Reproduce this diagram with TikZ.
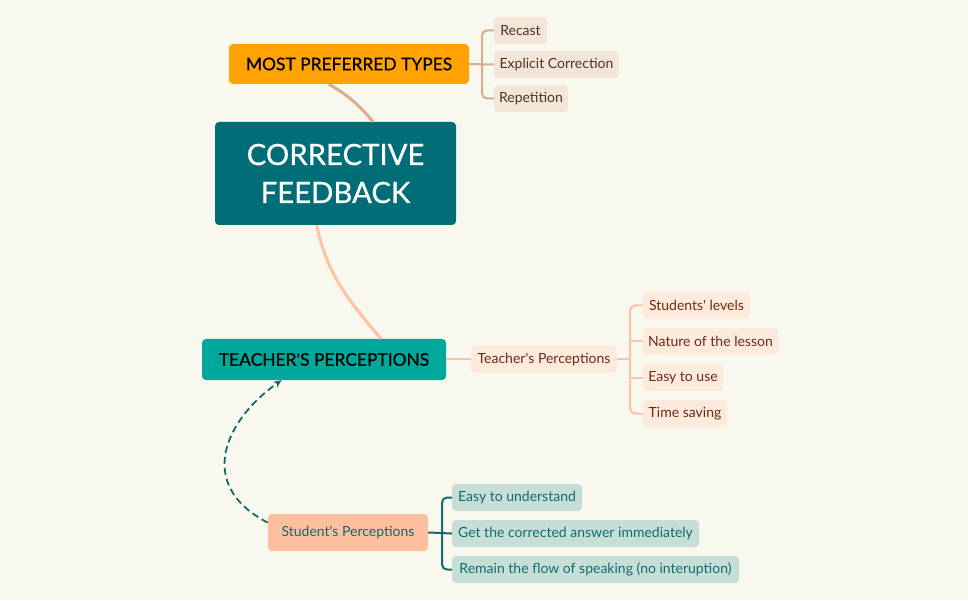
\documentclass[tikz,border=0pt]{standalone}
\usepackage{fontspec}
\setmainfont{Lato}
\newfontfamily\medfont[FakeBold=0.6]{Lato}
\usetikzlibrary{arrows.meta}
\definecolor{bgcol}{HTML}{F9F8EF}
\definecolor{orangebox}{HTML}{FFA305}
\definecolor{tanfill}{HTML}{F3E6D8}
\definecolor{tantext}{HTML}{4B3426}
\definecolor{tanline}{HTML}{D9AE8C}
\definecolor{darkteal}{HTML}{006D77}
\definecolor{teal}{HTML}{00A89C}
\definecolor{salmonline}{HTML}{FFC3A3}
\definecolor{salmonfill}{HTML}{FCEADD}
\definecolor{salmontext}{HTML}{6E2B14}
\definecolor{salmonbox}{HTML}{FFBE9E}
\definecolor{tealfill}{HTML}{C6DED6}
\definecolor{tealtext}{HTML}{0D6C73}
\definecolor{tealline}{HTML}{186870}

\begin{document}
\begin{tikzpicture}[x=1pt, y=1pt,
    box/.style={rounded corners=4pt, inner sep=0pt, minimum height=27pt},
    topic/.style={box, font=\medfont\fontsize{17.4}{20}\selectfont},
    leaf/.style={box, font=\fontsize{14}{16}\selectfont}]
    \fill[bgcol] (0,0) rectangle (968,600);
    \useasboundingbox (0,0) rectangle (968,600);
    % main topic
    \node[box, fill=darkteal, text=white, minimum width=241pt, minimum height=103pt,
        align=center, font=\medfont\fontsize{29.3}{38}\selectfont] (cf) at (335.5,426.5) {CORRECTIVE\\FEEDBACK};
    % most preferred types
    \node[topic, fill=orangebox, minimum width=240pt, minimum height=40pt] (mpt) at (349,536) {MOST PREFERRED TYPES};
    \node[leaf, fill=tanfill, text=tantext, minimum width=53pt] (recast) at (520.5,569.5) {Recast};
    \node[leaf, fill=tanfill, text=tantext, minimum width=125pt] (explicit) at (556.5,535.5) {Explicit Correction};
    \node[leaf, fill=tanfill, text=tantext, minimum width=74pt] (repet) at (531,501.5) {Repetition};
    \draw[tanline, line width=3pt] (mpt.-135) to[out=-30, in=130] (cf.54);
    \draw[tanline, line width=2pt] (mpt.east) -- (explicit.west);
    \draw[tanline, line width=2pt, rounded corners=5pt] (recast.west) -| (482,536) |- (repet.west);
    % teacher's perceptions
    \node[topic, fill=teal, minimum width=244pt, minimum height=41pt] (tp) at (324,240.5) {TEACHER\textquotesingle S PERCEPTIONS};
    \node[leaf, fill=salmonfill, text=salmontext, minimum width=146pt] (tpsub) at (544,240.5) {Teacher\textquotesingle s Perceptions};
    \node[leaf, fill=salmonfill, text=salmontext, minimum width=107pt] (lev) at (696.5,294.5) {Students\textquotesingle{} levels};
    \node[leaf, fill=salmonfill, text=salmontext, minimum width=135pt] (nat) at (710.5,258.5) {Nature of the lesson};
    \node[leaf, fill=salmonfill, text=salmontext, minimum width=80pt] (easy) at (683,222.5) {Easy to use};
    \node[leaf, fill=salmonfill, text=salmontext, minimum width=84pt] (time) at (685,186.5) {Time saving};
    \draw[salmonline, line width=3pt] (cf.-110) to[out=-78, in=130] (tp.20);
    \draw[salmonline, line width=2pt] (tp.east) -- (tpsub.west);
    \draw[salmonline, line width=2pt] (tpsub.east) -- (630,240.5);
    \draw[salmonline, line width=2pt, rounded corners=5pt] (lev.west) -| (630,258.5) |- (time.west);
    \draw[salmonline, line width=2pt] (nat.west) -- (630,258.5);
    \draw[salmonline, line width=2pt] (easy.west) -- (630,222.5);
    % student's perceptions
    \node[leaf, fill=salmonbox, text=tealtext, minimum width=160pt, minimum height=37pt] (sp) at (348,67.5) {Student\textquotesingle s Perceptions};
    \node[leaf, fill=tealfill, text=tealtext, minimum width=130pt] (und) at (517,102.5) {Easy to understand};
    \node[leaf, fill=tealfill, text=tealtext, minimum width=247pt] (get) at (575.5,66.5) {Get the corrected answer immediately};
    \node[leaf, fill=tealfill, text=tealtext, minimum width=287pt] (rem) at (595.5,30.5) {Remain the flow of speaking (no interuption)};
    \draw[tealline, line width=2pt] (sp.east) -- (get.west);
    \draw[tealline, line width=2pt, rounded corners=5pt] (und.west) -| (442,66.5) |- (rem.west);
    \draw[tealline, line width=1.8pt, dash pattern=on 7pt off 4pt, -{Stealth[length=8pt, width=7pt]}]
        (sp.173) .. controls (195,115) and (225,180) .. (tp.-154);
\end{tikzpicture}
\end{document}
